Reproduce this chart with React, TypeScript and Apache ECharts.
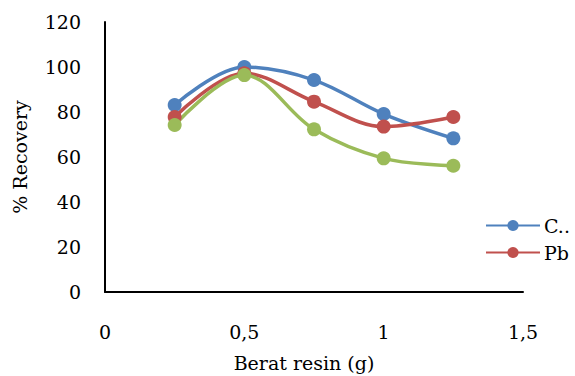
import React, { useEffect, useRef } from "react";
import * as echarts from "echarts";

const xValues = [0.25, 0.5, 0.75, 1.0, 1.25];
const seriesNames = ["C..", "Pb", "Zn"];
const blueValues = [83.1, 100, 94.2, 79.1, 68.3];
const redValues = [77.8, 97.2, 84.6, 73.5, 77.8];
const greenValues = [74.2, 96.4, 72.3, 59.4, 56.1];
const colors = ["#4F81BD", "#C0504D", "#9BBB59"];
const legendNames = ["C..", "Pb"];

const FONT = "DejaVu Serif";

export default function App() {
  const ref = useRef<HTMLDivElement>(null);
  useEffect(() => {
    if (!ref.current) return;
    const chart = echarts.init(ref.current, undefined, { renderer: "svg" });
    const all = [blueValues, redValues, greenValues];
    chart.setOption({
      animation: false,
      textStyle: { fontFamily: FONT },
      grid: { left: 105, right: 52, top: 22, bottom: 84, containLabel: false, outerBoundsMode: "none" },
      legend: {
        data: legendNames,
        orient: "vertical",
        left: 480,
        top: 211,
        itemWidth: 54,
        itemHeight: 14,
        itemGap: 8,
        textStyle: { fontFamily: FONT, fontSize: 19, lineHeight: 19, color: "#000", padding: [0, 0, 0, -1] },
      },
      xAxis: {
        type: "value",
        min: 0,
        max: 1.5,
        interval: 0.5,
        name: "Berat resin (g)",
        nameLocation: "middle",
        nameGap: 61,
        nameTextStyle: { fontFamily: FONT, fontSize: 19, color: "#000", padding: [0, 20, 0, 0] },
        axisLine: { lineStyle: { color: "#000", width: 2 } },
        axisTick: { show: false },
        splitLine: { show: false },
        axisLabel: {
          fontFamily: FONT,
          fontSize: 19,
          color: "#000",
          margin: 30,
          formatter: (v: number) => String(v).replace(".", ","),
        },
      },
      yAxis: {
        type: "value",
        min: 0,
        max: 120,
        interval: 20,
        name: "% Recovery",
        nameLocation: "middle",
        nameGap: 76,
        nameTextStyle: { fontFamily: FONT, fontSize: 19, color: "#000" },
        axisLine: { show: true, lineStyle: { color: "#000", width: 2 } },
        axisTick: { show: false },
        splitLine: { show: false },
        axisLabel: { fontFamily: FONT, fontSize: 19, color: "#000", margin: 24 },
      },
      series: seriesNames.map((name, i) => ({
        name,
        type: "line",
        smooth: 0.35,
        symbol: "circle",
        symbolSize: 14,
        data: xValues.map((x, j) => [x, all[i][j]]),
        lineStyle: { width: 3.5, color: colors[i] },
        itemStyle: { color: colors[i] },
      })),
    });
    return () => chart.dispose();
  }, []);
  return <div ref={ref} style={{ width: 575, height: 376, position: "absolute", left: 0, top: 0 }} />;
}
